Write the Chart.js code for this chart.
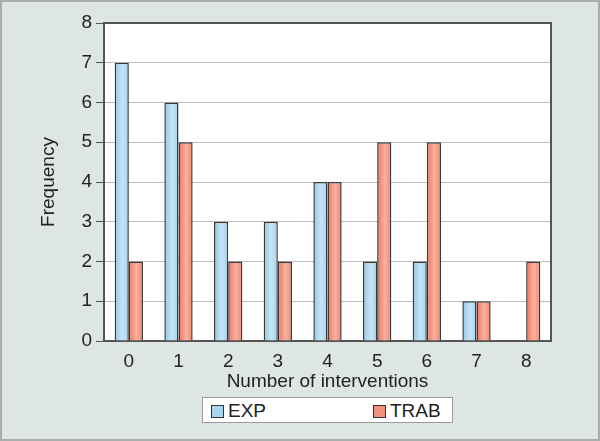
<!DOCTYPE html>
<html>
<head>
<meta charset="utf-8">
<script src="https://cdn.jsdelivr.net/npm/chart.js@4/dist/chart.umd.min.js"></script>
<style>
  html, body { margin: 0; padding: 0; }
  #wrap { position: relative; width: 600px; height: 441px; }
  #legend {
    position: absolute; left: 202px; top: 397px; width: 249px; height: 24px;
    background: #fff; border: 1px solid #9a9a9a;
    font-family: 'Liberation Sans', Arial, sans-serif; font-size: 19px; color: #222;
  }
  .item { position: absolute; top: 2px; line-height: 21px; }
  .sw { display: inline-block; width: 11px; height: 11px; border: 1px solid #333; margin-right: 4px; vertical-align: -1px; }
</style>
</head>
<body>
<div id="wrap">
  <canvas id="freqChart" width="600" height="441"></canvas>
  <div id="legend">
    <span class="item" style="left:8px"><span class="sw" style="background:#a9d5ee"></span>EXP</span>
    <span class="item" style="left:170px"><span class="sw" style="background:#f3907c"></span>TRAB</span>
  </div>
</div>
<script>
const categories = ['0', '1', '2', '3', '4', '5', '6', '7', '8'];
const expValues = [7, 6, 3, 3, 4, 2, 2, 1, 0];
const trabValues = [2, 5, 2, 2, 4, 5, 5, 1, 2];

const FONT = "'Liberation Sans', Arial, sans-serif";

// page background, white plot area, bar shading and frame
const framePlugin = {
    id: 'frame',
    beforeDraw(chart) {
        const { ctx, chartArea: a } = chart;
        ctx.save();
        ctx.fillStyle = '#dde6e3';
        ctx.fillRect(0, 0, chart.width, chart.height);
        ctx.strokeStyle = '#a9adac';
        ctx.lineWidth = 2;
        ctx.strokeRect(1, 1, chart.width - 2, chart.height - 2);
        ctx.fillStyle = '#fff';
        ctx.fillRect(a.left, a.top, a.right - a.left, a.bottom - a.top);
        ctx.restore();
    },
    beforeDatasetsDraw(chart) {
        const { ctx } = chart;
        const stops = [
            ['#93c8e4', '#c6e5f6', '#a3d2ec'],
            ['#ec7560', '#fbb2a0', '#ef826d'],
        ];
        chart.data.datasets.forEach((ds, i) => {
            chart.getDatasetMeta(i).data.forEach((bar) => {
                const half = bar.width / 2;
                const g = ctx.createLinearGradient(bar.x - half, 0, bar.x + half, 0);
                g.addColorStop(0, stops[i][0]);
                g.addColorStop(0.55, stops[i][1]);
                g.addColorStop(1, stops[i][2]);
                bar.options = { ...bar.options, backgroundColor: g };
            });
        });
    },
    afterDraw(chart) {
        const { ctx, chartArea: a } = chart;
        ctx.save();
        ctx.strokeStyle = '#555';
        ctx.lineWidth = 2;
        ctx.beginPath();
        ctx.moveTo(a.left, a.top);
        ctx.lineTo(a.right, a.top);
        ctx.lineTo(a.right, a.bottom);
        ctx.stroke();
        ctx.restore();
    },
};

new Chart(document.getElementById('freqChart'), {
    type: 'bar',
    data: {
        labels: categories,
        datasets: [
            { label: 'EXP', data: expValues, backgroundColor: '#a9d5ee', borderColor: '#3a3a3a', borderWidth: 1.5, borderSkipped: 'start' },
            { label: 'TRAB', data: trabValues, backgroundColor: '#f3907c', borderColor: '#3a3a3a', borderWidth: 1.5, borderSkipped: 'start' },
        ],
    },
    options: {
        responsive: false,
        animation: false,
        layout: { padding: { left: 0, top: 23, right: 49, bottom: 48 } },
        datasets: { bar: { categoryPercentage: 0.57, barPercentage: 1 } },
        plugins: { legend: { display: false }, tooltip: { enabled: false } },
        scales: {
            x: {
                grid: { display: false, drawTicks: false },
                border: { color: '#555', width: 2 },
                ticks: { color: '#222', padding: 9, font: { size: 19, family: FONT } },
                title: { display: true, text: 'Number of interventions', color: '#222', padding: { top: 4, bottom: 0 }, font: { size: 19, family: FONT } },
                afterFit: (scale) => { scale.height = 52; },
            },
            y: {
                min: 0,
                max: 8,
                ticks: { stepSize: 1, color: '#222', padding: 4, font: { size: 19, family: FONT } },
                grid: { color: '#bdbdbd', tickColor: '#555', tickLength: 8 },
                border: { color: '#555', width: 2 },
                title: { display: true, text: 'Frequency', color: '#222', padding: { top: 37, bottom: 0 }, font: { size: 19, family: FONT } },
                afterFit: (scale) => { scale.width = 104; },
            },
        },
    },
    plugins: [framePlugin],
});
</script>
</body>
</html>
